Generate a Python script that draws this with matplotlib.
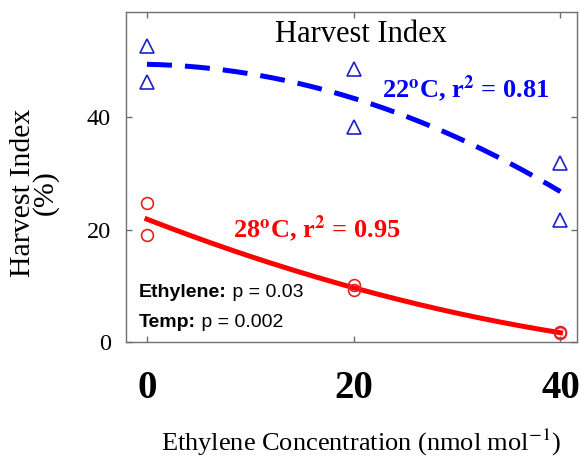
import numpy as np
import matplotlib
matplotlib.use('Agg')
import matplotlib.pyplot as plt

plt.rcParams['font.family'] = 'Liberation Serif'
plt.rcParams['mathtext.fontset'] = 'stix'

# ethylene concentration (nmol mol-1) and harvest index (%) per replicate
ethylene = [0, 0, 20, 20, 40, 40]
hi_22 = [52.6, 46.2, 48.5, 38.2, 31.8, 21.7]
hi_28 = [24.7, 19.0, 10.1, 9.2, 1.7, 1.6]
xticks = [0, 20, 40]
yticks = [0, 20, 40]

fig = plt.figure(figsize=(5.8, 4.58), dpi=100)
ax = fig.add_axes([0.2172, 0.2533, 0.7776, 0.7205])

# quadratic fits
xf = np.linspace(0, 40, 200)
p22 = np.polyfit(ethylene, hi_22, 2)
p28 = np.polyfit(ethylene, hi_28, 2)
ax.plot(xf, np.polyval(p22, xf), color='#0000ff', lw=3.6, ls=(0, (5, 2.6)),
        solid_capstyle='butt', dash_capstyle='butt')
ax.plot(xf, np.polyval(p28, xf), color='#ff0000', lw=3.6)

ax.plot(ethylene, hi_22, ls='none', marker='^', ms=10, mfc='none',
        mec='#2020c8', mew=1.2)
ax.plot(ethylene, hi_28, ls='none', marker='o', ms=8.5, mfc='none',
        mec='#e82020', mew=1.2)

ax.set_xlim(-2.03, 41.6)
ax.set_ylim(0, 58.7)
ax.set_xticks(xticks)
ax.set_yticks(yticks)
ax.tick_params(direction='in', length=4, width=1, color='#707070',
               top=True, right=True)
ax.tick_params(axis='x', pad=20, labelsize=28)
ax.tick_params(axis='y', pad=11, labelsize=17.5)
for lab in ax.get_xticklabels():
    lab.set_fontweight('bold')
for s in ax.spines.values():
    s.set_color('#707070')
    s.set_linewidth(1)

ax.text(20.7, 53.3, 'Harvest Index', fontsize=22, ha='center', va='baseline')
ax.text(22.7, 43.4, r'22$^{\mathbf{o}}$C, r$^{\mathbf{2}}$ = 0.81', color='#0000ff',
        fontsize=19, fontweight='bold', ha='left', va='baseline')
ax.text(8.3, 18.5, r'28$^{\mathbf{o}}$C, r$^{\mathbf{2}}$ = 0.95', color='#ff0000',
        fontsize=19, fontweight='bold', ha='left', va='baseline')

t1 = ax.text(-0.77, 8.0, 'Ethylene:', fontsize=14, fontweight='bold',
             family='Liberation Sans', va='baseline')
ax.annotate(' p = 0.03', xy=(1, 0), xycoords=t1, fontsize=14,
            family='Liberation Sans', va='bottom')
t2 = ax.text(-0.77, 2.7, 'Temp:', fontsize=14, fontweight='bold',
             family='Liberation Sans', va='baseline')
ax.annotate(' p = 0.002', xy=(1, 0), xycoords=t2, fontsize=14,
            family='Liberation Sans', va='bottom')

fig.text(0.059, 0.579, 'Harvest Index\n(%)', rotation=90, fontsize=21.5,
         ha='center', va='center', multialignment='center', linespacing=0.82)
fig.text(361 / 580, 7 / 458, r'Ethylene Concentration (nmol mol$^{-1}$)',
         fontsize=19, ha='center', va='baseline')

fig.savefig('out.png', dpi=100)
